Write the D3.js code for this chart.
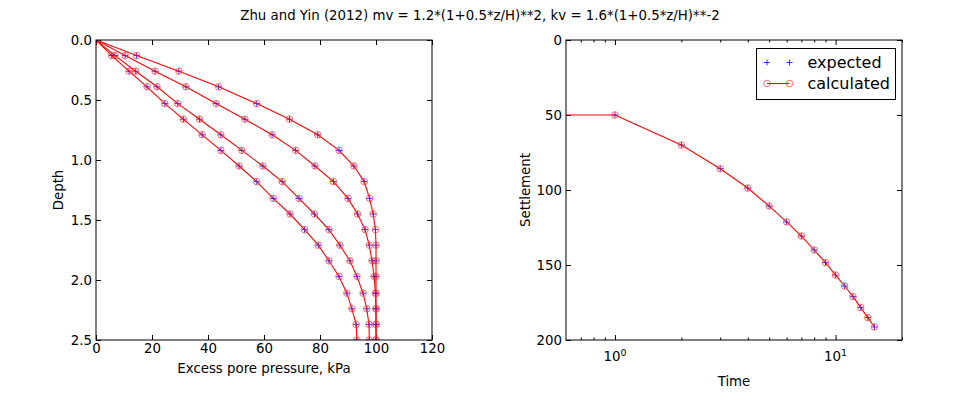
<!DOCTYPE html>
<html>
<head>
<meta charset="utf-8">
<script src="https://cdn.jsdelivr.net/npm/d3@7"></script>
<style>
  body { margin: 0; background: #fff; }
  text { font-family: "DejaVu Sans", sans-serif; }
</style>
</head>
<body>
<div id="chart"></div>
<script>
// depth of each point in the profile
var depth = [0, 0.13, 0.26, 0.39, 0.53, 0.66, 0.79, 0.92, 1.05, 1.18, 1.32, 1.45, 1.58, 1.71, 1.84, 1.97, 2.11, 2.24, 2.37, 2.5]

// excess pore pressure profiles (kPa), one per time
var poreA = [0, 14.5, 29.6, 43.8, 57.4, 69.1, 79.2, 86.8, 92.1, 95.8, 97.7, 99.0, 99.8, 100, 100, 100, 100, 100, 100, 100]
var poreB = [0, 10.4, 21.1, 32.1, 42.9, 53.2, 62.9, 71.3, 78.2, 84.8, 90.0, 93.4, 96.1, 97.6, 98.6, 99.3, 99.8, 100, 100, 100]
var poreC = [0, 6.8, 14.2, 21.8, 29.2, 37.0, 44.6, 52.1, 59.6, 66.5, 72.5, 78.0, 83.2, 87.1, 90.7, 93.2, 95.4, 96.7, 97.5, 97.6]
var poreD = [0, 5.6, 11.8, 18.2, 24.6, 31.2, 37.9, 44.6, 51.1, 57.4, 63.3, 69.3, 74.5, 79.4, 83.2, 86.8, 89.6, 91.4, 92.9, 93.2]
var poreCurves = [poreA, poreB, poreC, poreD]

// settlement vs time
var times = [0, 1, 2, 3, 4, 5, 6, 7, 8, 9, 10, 11, 12, 13, 14, 15]
var settlement = [50, 50, 70, 85.8, 98.7, 110.7, 121.3, 130.7, 140, 148.4, 156.7, 164, 171.1, 178.4, 185.1, 191.3]

var pressureTicks = [0, 20, 40, 60, 80, 100, 120]
var depthTicks = [0, 0.5, 1.0, 1.5, 2.0, 2.5]
var settleTicks = [0, 50, 100, 150, 200]
var timeMajor = [1, 10]
var timeMinor = [0.7, 0.8, 0.9, 2, 3, 4, 5, 6, 7, 8, 9, 20]

var width = 960, height = 400
var fs = 13.33

var svg = d3.select("#chart").append("svg")
    .attr("width", width)
    .attr("height", height)

var xl = d3.scaleLinear().domain([0, 120]).range([96, 432])
var yl = d3.scaleLinear().domain([0, 2.5]).range([40, 340])
var xr = d3.scaleLog().domain([0.6, 20]).range([566, 902])
var yr = d3.scaleLinear().domain([0, 200]).range([40, 340])

svg.append("text")
    .attr("x", 480).attr("y", 19.5)
    .attr("text-anchor", "middle")
    .style("font-size", fs + "px")
    .text("Zhu and Yin (2012) mv = 1.2*(1+0.5*z/H)**2, kv = 1.6*(1+0.5*z/H)**-2")

var defs = svg.append("defs")
defs.append("clipPath").attr("id", "clipL")
    .append("rect").attr("x", 96).attr("y", 40).attr("width", 336).attr("height", 300)
defs.append("clipPath").attr("id", "clipR")
    .append("rect").attr("x", 566).attr("y", 40).attr("width", 336).attr("height", 300)

function styleAxis(g) {
    g.select(".domain").remove()
    g.selectAll("line").attr("stroke", "#000")
    g.selectAll("text").attr("font-family", "DejaVu Sans").attr("font-size", fs).attr("fill", "#000")
}

function plusPath(cx, cy, r) {
    return "M" + (cx - r) + "," + cy + "H" + (cx + r) + "M" + cx + "," + (cy - r) + "V" + (cy + r)
}

function circles(g, data, fx, fy) {
    g.selectAll(null).data(data).enter().append("circle")
        .attr("cx", fx).attr("cy", fy)
        .attr("r", 3.3)
        .attr("fill", "none").attr("stroke", "#ff4040").attr("stroke-width", 1).attr("stroke-opacity", 0.75)
}

// ---------- left: pore pressure profiles ----------
svg.append("g").attr("transform", "translate(0,340)")
    .call(d3.axisBottom(xl).tickValues(pressureTicks).tickSize(-5).tickSizeOuter(0).tickPadding(4).tickFormat(d3.format("d")))
    .call(styleAxis)
svg.append("g").attr("transform", "translate(0,40)")
    .call(d3.axisTop(xl).tickValues(pressureTicks).tickSize(-5).tickSizeOuter(0).tickFormat(""))
    .call(styleAxis)
svg.append("g").attr("transform", "translate(96,0)")
    .call(d3.axisLeft(yl).tickValues(depthTicks).tickSize(-5).tickSizeOuter(0).tickPadding(4).tickFormat(d3.format(".1f")))
    .call(styleAxis)
svg.append("g").attr("transform", "translate(432,0)")
    .call(d3.axisRight(yl).tickValues(depthTicks).tickSize(-5).tickSizeOuter(0).tickFormat(""))
    .call(styleAxis)

var plotL = svg.append("g").attr("clip-path", "url(#clipL)")

poreCurves.forEach(function(curve) {
    var pts = curve.map(function(u, i) { return [u, depth[i]] })
    plotL.append("path")
        .attr("fill", "none").attr("stroke", "#0000ff").attr("stroke-width", 0.8)
        .attr("d", pts.map(function(p) { return plusPath(xl(p[0]), yl(p[1]), 3) }).join(""))
})
poreCurves.forEach(function(curve) {
    var pts = curve.map(function(u, i) { return [u, depth[i]] })
    var line = d3.line().x(function(p) { return xl(p[0]) }).y(function(p) { return yl(p[1]) })
    plotL.append("path")
        .attr("fill", "none").attr("stroke", "#ff0000").attr("stroke-width", 1.1)
        .attr("d", line(pts))
    circles(plotL, pts, function(p) { return xl(p[0]) }, function(p) { return yl(p[1]) })
})

svg.append("rect").attr("x", 96).attr("y", 40).attr("width", 336).attr("height", 300)
    .attr("fill", "none").attr("stroke", "#000").attr("stroke-width", 1)

svg.append("text").attr("x", 264).attr("y", 373).attr("text-anchor", "middle")
    .style("font-size", fs + "px").text("Excess pore pressure, kPa")
svg.append("text").attr("transform", "translate(62.5,190) rotate(-90)").attr("text-anchor", "middle")
    .style("font-size", fs + "px").text("Depth")

// ---------- right: settlement vs time ----------
svg.append("g").attr("transform", "translate(0,340)")
    .call(d3.axisBottom(xr).tickValues(timeMajor).tickSize(-5).tickSizeOuter(0).tickFormat(""))
    .call(styleAxis)
svg.append("g").attr("transform", "translate(0,340)")
    .call(d3.axisBottom(xr).tickValues(timeMinor).tickSize(-2.5).tickSizeOuter(0).tickFormat(""))
    .call(styleAxis)
svg.append("g").attr("transform", "translate(0,40)")
    .call(d3.axisTop(xr).tickValues(timeMajor).tickSize(-5).tickSizeOuter(0).tickFormat(""))
    .call(styleAxis)
svg.append("g").attr("transform", "translate(0,40)")
    .call(d3.axisTop(xr).tickValues(timeMinor).tickSize(-2.5).tickSizeOuter(0).tickFormat(""))
    .call(styleAxis)
svg.append("g").attr("transform", "translate(566,0)")
    .call(d3.axisLeft(yr).tickValues(settleTicks).tickSize(-5).tickSizeOuter(0).tickPadding(4).tickFormat(d3.format("d")))
    .call(styleAxis)
svg.append("g").attr("transform", "translate(902,0)")
    .call(d3.axisRight(yr).tickValues(settleTicks).tickSize(-5).tickSizeOuter(0).tickFormat(""))
    .call(styleAxis)

timeMajor.forEach(function(v) {
    var t = svg.append("text").attr("x", xr(v)).attr("y", 360.5).attr("text-anchor", "middle")
        .style("font-size", fs + "px")
    t.append("tspan").text("10")
    t.append("tspan").attr("dy", -4.5).style("font-size", "9.5px").text(Math.round(Math.log10(v)))
})

var plotR = svg.append("g").attr("clip-path", "url(#clipR)")
var xmin = xr.domain()[0]
var spts = times.map(function(t, i) { return [t, settlement[i]] })
var tx = function(t) { return xr(Math.max(t, xmin * 0.5)) }

plotR.append("path")
    .attr("fill", "none").attr("stroke", "#0000ff").attr("stroke-width", 0.8)
    .attr("d", spts.map(function(p) { return plusPath(tx(p[0]), yr(p[1]), 3) }).join(""))
plotR.append("path")
    .attr("fill", "none").attr("stroke", "#ff0000").attr("stroke-width", 1.1)
    .attr("d", d3.line().x(function(p) { return tx(p[0]) }).y(function(p) { return yr(p[1]) })(spts))
circles(plotR, spts, function(p) { return tx(p[0]) }, function(p) { return yr(p[1]) })

svg.append("rect").attr("x", 566).attr("y", 40).attr("width", 336).attr("height", 300)
    .attr("fill", "none").attr("stroke", "#000").attr("stroke-width", 1)

svg.append("text").attr("x", 734).attr("y", 386).attr("text-anchor", "middle")
    .style("font-size", fs + "px").text("Time")
svg.append("text").attr("transform", "translate(530,190) rotate(-90)").attr("text-anchor", "middle")
    .style("font-size", fs + "px").text("Settlement")

// legend
var lg = svg.append("g")
lg.append("rect").attr("x", 756.5).attr("y", 48.5).attr("width", 139).attr("height", 51)
    .attr("fill", "#fff").attr("stroke", "#000").attr("stroke-width", 1)
lg.append("path").attr("fill", "none").attr("stroke", "#0000ff").attr("stroke-width", 0.8)
    .attr("d", plusPath(767, 62.5, 3) + plusPath(789.5, 62.5, 3))
lg.append("text").attr("x", 807.5).attr("y", 67.5).style("font-size", "16px").text("expected")
lg.append("line").attr("x1", 767).attr("x2", 789.5).attr("y1", 83.5).attr("y2", 83.5)
    .attr("stroke", "#ff0000").attr("stroke-width", 1.1)
circles(lg, [767, 789.5], function(d) { return d }, function() { return 83.5 })
lg.append("text").attr("x", 807.5).attr("y", 89).style("font-size", "16px").text("calculated")
</script>
</body>
</html>
